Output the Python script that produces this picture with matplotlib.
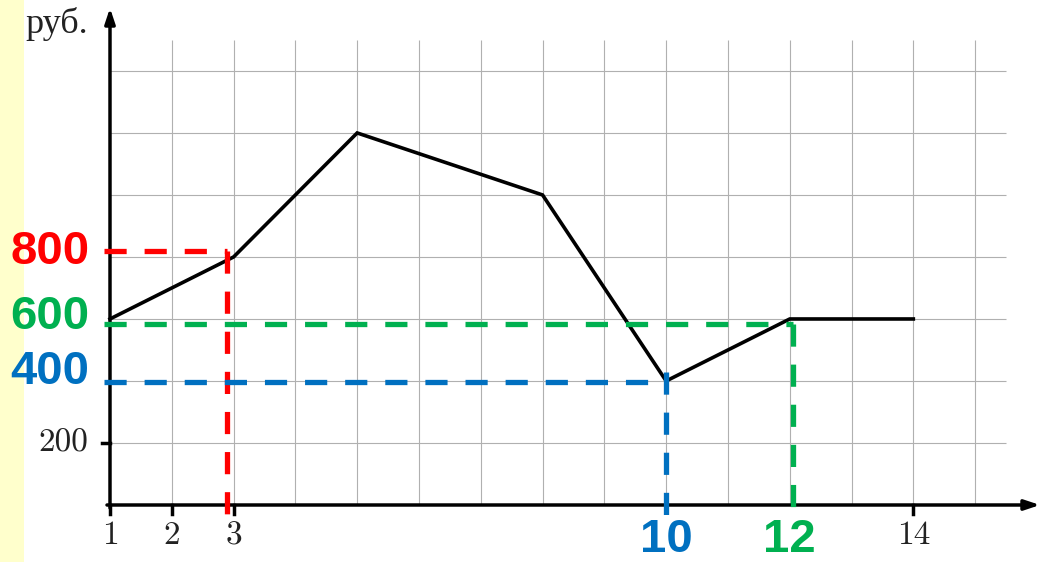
import matplotlib
matplotlib.use("Agg")
import matplotlib.pyplot as plt
from matplotlib.patches import Rectangle

# ---- data ----
months = [1, 3, 5, 8, 10, 12, 14]
prices = [600, 800, 1200, 1000, 400, 600, 600]
x_tick_values = [1, 2, 3, 14]
x_tick_labels = ["1", "2", "3", "14"]
y_tick_values = [200]
y_tick_labels = ["200"]
y_unit_label = "руб."
grid_x = list(range(2, 16))
grid_y = [200, 400, 600, 800, 1000, 1200, 1400]
# highlighted readings: (month, price, colour)
mark_months = [3, 12, 10]
mark_prices = [800, 600, 400]
mark_colors = ["#FF0000", "#00B050", "#0070C0"]

W, H, DPI = 1048, 562, 100
fig = plt.figure(figsize=(W / DPI, H / DPI), dpi=DPI)
fig.patch.set_facecolor("white")
fig.patches.append(Rectangle((0, 0), 24 / W, 1, transform=fig.transFigure,
                             facecolor="#FFFFCC", edgecolor="none", zorder=-5))

# axes area in pixels
px_left, px_right, px_bottom, px_top = 110, 1040, 505, 8
xmin, xmax, ymin, ymax = 1, 16.05, 0, 1603
ax = fig.add_axes([px_left / W, (H - px_bottom) / H,
                   (px_right - px_left) / W, (px_bottom - px_top) / H])
ax.set_zorder(2)
ax.set_xlim(xmin, xmax)
ax.set_ylim(ymin, ymax)
ax.axis("off")
ppx = (px_right - px_left) / (xmax - xmin)   # pixels per x unit
ppy = (px_bottom - px_top) / (ymax - ymin)   # pixels per y unit

# grid
grid_c = "#b0b0b0"
ax.vlines(grid_x, 0, 1500, color=grid_c, lw=0.8, zorder=1)
ax.hlines(grid_y, 1, 15.5, color=grid_c, lw=0.8, zorder=1)

# axes with arrows
ax.annotate("", xy=(xmax, 0), xytext=(1 - 3 / ppx, 0),
            arrowprops=dict(arrowstyle="-|>,head_length=0.9,head_width=0.3",
                            lw=2.5, color="black", shrinkA=0, shrinkB=0),
            annotation_clip=False, zorder=5)
ax.annotate("", xy=(1, ymax), xytext=(1, -3 / ppy),
            arrowprops=dict(arrowstyle="-|>,head_length=0.9,head_width=0.3",
                            lw=2.5, color="black", shrinkA=0, shrinkB=0),
            annotation_clip=False, zorder=5)

# ticks
tick_font = dict(family="cmr10", fontsize=24, color="#222222")
for xv, lab in zip(x_tick_values, x_tick_labels):
    ax.plot([xv, xv], [0, -9 / ppy], color="black", lw=2.5, clip_on=False, zorder=5)
    ax.text(xv, -16 / ppy, lab, ha="center", va="top", **tick_font)
for yv, lab in zip(y_tick_values, y_tick_labels):
    ax.plot([1 - 8 / ppx, 1], [yv, yv], color="black", lw=2.5, clip_on=False, zorder=5)
    ax.text(1 - 22 / ppx, yv, lab, ha="right", va="center", **tick_font)
ax.text(1 - 22 / ppx, ymax - 16 / ppy, y_unit_label, ha="right", va="center",
        family="Liberation Serif", fontsize=26, color="#222222")

# price line
ax.plot(months, prices, color="black", lw=2.6, solid_joinstyle="miter",
        zorder=4, clip_on=False)

# hand-drawn dashed readings (small pixel offsets mimic the hand drawing)
h_off_px = [6, -5, -1]       # vertical pixel offset of horizontal dash
v_off_px = [-7, 3, 0]        # horizontal pixel offset of vertical dash
v_bottom_px = [13, 8, 13]    # how far below the axis the vertical dash reaches
v_top_px = [0, 0, 10]
dash_kw = dict(lw=3.8, dashes=(4.2, 3.4), solid_capstyle="butt",
               dash_capstyle="butt", clip_on=False, zorder=6)
for m, p, c, ho, vo, vb, vt in zip(mark_months, mark_prices, mark_colors,
                                   h_off_px, v_off_px, v_bottom_px, v_top_px):
    yy = p + ho / ppy
    xx = m + vo / ppx
    ax.plot([1 - 6 / ppx, xx], [yy, yy], color=c, **dash_kw)
    ax.plot([xx, xx], [yy + vt / ppy, -vb / ppy], color=c, **dash_kw)

# big coloured labels
big = dict(family="Liberation Sans", fontweight="bold", fontsize=34)
label_off_px = [5, 2, 9]
for p, c, lo in zip(mark_prices, mark_colors, label_off_px):
    ax.text(1 - 60 / ppx, p + lo / ppy, str(p), ha="center", va="center",
            color=c, **big)
for m, c in zip(mark_months[1:], mark_colors[1:]):
    ax.text(m, -35 / ppy, str(m), ha="center", va="center", color=c, **big)

fig.savefig("out.png", dpi=DPI, facecolor="white")
